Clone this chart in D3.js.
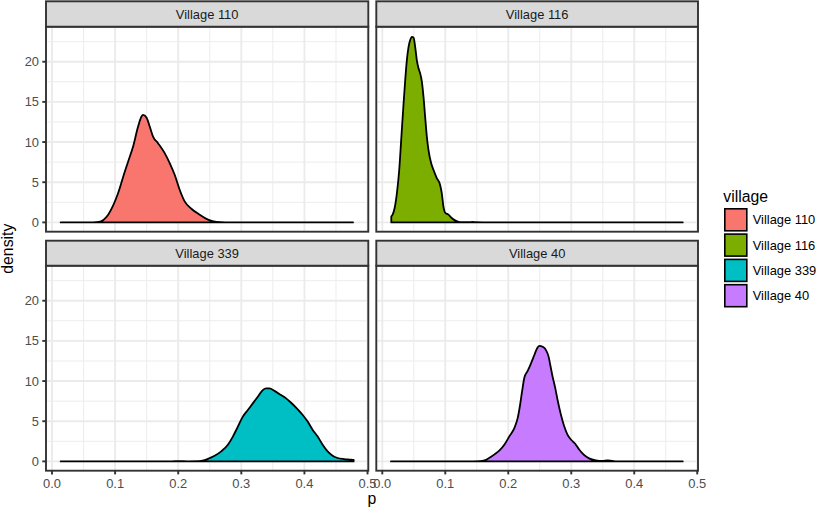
<!DOCTYPE html>
<html>
<head>
<meta charset="utf-8">
<script src="https://cdn.jsdelivr.net/npm/d3@7"></script>
<style>
  html, body { margin: 0; padding: 0; background: #fff; }
  svg { display: block; font-family: "Liberation Sans", Arial, sans-serif; }
</style>
</head>
<body>
<svg id="chart" width="817" height="511"></svg>
<script>
// ---------------- data ----------------
const villages = ["Village 110", "Village 116", "Village 339", "Village 40"];
const fillColors = ["#F8766D", "#7CAE00", "#00BFC4", "#C77CFF"];

const p110 = [0.0137, 0.065, 0.0739, 0.089, 0.1048, 0.1154, 0.1207, 0.1285, 0.1364, 0.1418, 0.1443, 0.1497, 0.1549, 0.1601, 0.168, 0.1786, 0.1865, 0.1944, 0.2023, 0.2102, 0.2208, 0.234, 0.2472, 0.2604, 0.275, 0.477];
const d110 = [0, 0, 0.05, 0.96, 3.65, 6.34, 7.58, 9.44, 11.93, 13.17, 13.38, 13.05, 11.93, 10.68, 9.86, 8.62, 7.38, 5.93, 4.06, 2.61, 1.70, 0.96, 0.34, 0.05, 0, 0];

const p116 = [0.0143, 0.0164, 0.0196, 0.0232, 0.0269, 0.0300, 0.0338, 0.0364, 0.039, 0.0417, 0.0443, 0.047, 0.0496, 0.0522, 0.0548, 0.0575, 0.0601, 0.0628, 0.0654, 0.068, 0.0707, 0.0733, 0.0775, 0.0812, 0.0865, 0.0917, 0.0944, 0.097, 0.0996, 0.105, 0.1102, 0.1154, 0.1233, 0.138, 0.143, 0.148, 0.16, 0.477];
const d116 = [0.75, 0.96, 1.79, 3.65, 6.55, 10.27, 14.83, 17.73, 20.2, 21.86, 22.7, 23.1, 23.03, 21.86, 20.2, 19.18, 18.56, 17.52, 15.65, 13.17, 10.68, 9.03, 7.38, 6.55, 5.52, 4.68, 3.65, 1.99, 1.24, 0.96, 0.55, 0.25, 0.02, 0.02, 0.06, 0.02, 0, 0];

const p339 = [0.0137, 0.19, 0.2, 0.215, 0.232, 0.2418, 0.25, 0.2577, 0.2682, 0.2787, 0.2866, 0.2945, 0.3024, 0.3103, 0.3182, 0.3261, 0.334, 0.3394, 0.3446, 0.3525, 0.3631, 0.371, 0.3789, 0.3894, 0.3973, 0.4052, 0.4131, 0.421, 0.4289, 0.4368, 0.4447, 0.4526, 0.4632, 0.4738, 0.478];
const d339 = [0, 0, 0.03, 0.01, 0.02, 0.15, 0.42, 0.70, 1.24, 2.07, 3.09, 4.33, 5.57, 6.39, 7.22, 8.04, 8.87, 9.08, 9.08, 8.78, 8.25, 7.84, 7.30, 6.48, 5.78, 4.95, 3.92, 3.09, 2.07, 1.24, 0.70, 0.42, 0.29, 0.21, 0.17];

const p40 = [0.0137, 0.145, 0.1544, 0.1623, 0.1702, 0.1782, 0.1861, 0.194, 0.2019, 0.2098, 0.215, 0.2188, 0.2219, 0.2256, 0.2308, 0.2361, 0.2414, 0.2456, 0.2493, 0.2545, 0.2599, 0.264, 0.2667, 0.2703, 0.2746, 0.2782, 0.2836, 0.2888, 0.294, 0.2994, 0.3062, 0.3125, 0.3204, 0.3283, 0.3389, 0.3494, 0.3573, 0.3652, 0.372, 0.477];
const d40 = [0, 0, 0.02, 0.12, 0.46, 0.87, 1.36, 2.10, 3.14, 4.17, 5.41, 7.05, 8.70, 10.44, 11.26, 12.21, 13.24, 14.06, 14.39, 14.27, 13.85, 13.04, 12.0, 10.56, 9.12, 7.67, 5.81, 4.38, 3.34, 2.72, 2.19, 1.48, 0.79, 0.37, 0.12, 0.05, 0.12, 0.05, 0, 0];

const pSeries = [p110, p116, p339, p40];
const dSeries = [d110, d116, d339, d40];

const xTicks = [0, 0.1, 0.2, 0.3, 0.4, 0.5];
const xTickLabels = ["0.0", "0.1", "0.2", "0.3", "0.4", "0.5"];
const xMinor = [0.05, 0.15, 0.25, 0.35, 0.45];
const yTicks = [0, 5, 10, 15, 20];
const yMinor = [2.5, 7.5, 12.5, 17.5, 22.5];

// ---------------- layout ----------------
const svg = d3.select("#chart");
const colX = [[46, 368.3], [376.3, 698]];
const stripY = [[1.3, 26.7], [240.7, 265.7]];
const panelY = [[26.7, 231.7], [265.7, 470.7]];

const smallFont = 12.9, bigFont = 15.8;

const allP = pSeries.flat();
const pMin = d3.min(allP), pMax = d3.max(allP);
const pPad = (pMax - pMin) * 0.05;
const dMax = 23.2;
const dPad = dMax * 0.05;

const grey20 = "#333333", gridCol = "#EBEBEB";

villages.forEach((v, i) => {
  const col = i % 2, row = Math.floor(i / 2);
  const [x0, x1] = colX[col];
  const [py0, py1] = panelY[row];
  const [sy0, sy1] = stripY[row];

  const x = d3.scaleLinear().domain([pMin - pPad, pMax + pPad]).range([x0, x1]);
  const y = d3.scaleLinear().domain([-dPad, dMax + dPad]).range([py1, py0]);

  const g = svg.append("g");
  g.append("rect").attr("x", x0).attr("y", py0).attr("width", x1 - x0).attr("height", py1 - py0).attr("fill", "#fff");

  // minor grid
  g.selectAll(".vminor").data(xMinor).join("line")
    .attr("x1", d => x(d)).attr("x2", d => x(d)).attr("y1", py0).attr("y2", py1)
    .attr("stroke", gridCol).attr("stroke-width", 0.95);
  g.selectAll(".hminor").data(yMinor).join("line")
    .attr("x1", x0).attr("x2", x1).attr("y1", d => y(d)).attr("y2", d => y(d))
    .attr("stroke", gridCol).attr("stroke-width", 0.95);
  // major grid
  g.selectAll(".vmajor").data(xTicks).join("line")
    .attr("x1", d => x(d)).attr("x2", d => x(d)).attr("y1", py0).attr("y2", py1)
    .attr("stroke", gridCol).attr("stroke-width", 1.9);
  g.selectAll(".hmajor").data(yTicks).join("line")
    .attr("x1", x0).attr("x2", x1).attr("y1", d => y(d)).attr("y2", d => y(d))
    .attr("stroke", gridCol).attr("stroke-width", 1.9);

  // density
  const pts = pSeries[i].map((p, k) => ({ p, d: dSeries[i][k] }));
  const area = d3.area()
    .x(d => x(d.p)).y0(y(0)).y1(d => y(d.d))
    .curve(d3.curveMonotoneX);
  g.append("path").datum(pts).attr("d", area)
    .attr("fill", fillColors[i]).attr("stroke", "#000").attr("stroke-width", 1.8)
    .attr("stroke-linejoin", "round");

  // panel border
  g.append("rect").attr("x", x0).attr("y", py0).attr("width", x1 - x0).attr("height", py1 - py0)
    .attr("fill", "none").attr("stroke", grey20).attr("stroke-width", 1.9);

  // strip
  g.append("rect").attr("x", x0).attr("y", sy0).attr("width", x1 - x0).attr("height", sy1 - sy0)
    .attr("fill", "#D9D9D9").attr("stroke", grey20).attr("stroke-width", 1.9);
  g.append("text").attr("x", (x0 + x1) / 2).attr("y", (sy0 + sy1) / 2 + 4.6)
    .attr("text-anchor", "middle").attr("font-size", smallFont + "px").attr("fill", "#1A1A1A").text(v);

  if (col === 0) {
    const ya = g.append("g");
    ya.selectAll("line").data(yTicks).join("line")
      .attr("x1", x0 - 3.7).attr("x2", x0).attr("y1", d => y(d)).attr("y2", d => y(d))
      .attr("stroke", grey20).attr("stroke-width", 1.9);
    ya.selectAll("text").data(yTicks).join("text")
      .attr("x", x0 - 7).attr("y", d => y(d) + 4.6)
      .attr("text-anchor", "end").attr("font-size", smallFont + "px").attr("fill", "#4D4D4D")
      .text(d => d);
  }
  if (row === 1) {
    const xa = g.append("g");
    xa.selectAll("line").data(xTicks).join("line")
      .attr("x1", d => x(d)).attr("x2", d => x(d)).attr("y1", py1).attr("y2", py1 + 3.7)
      .attr("stroke", grey20).attr("stroke-width", 1.9);
    xa.selectAll("text").data(xTicks).join("text")
      .attr("x", d => x(d)).attr("y", py1 + 17.3)
      .attr("text-anchor", "middle").attr("font-size", smallFont + "px").attr("fill", "#4D4D4D")
      .text((d, k) => xTickLabels[k]);
  }
});

// axis titles
svg.append("text").attr("x", (colX[0][0] + colX[1][1]) / 2).attr("y", 504)
  .attr("text-anchor", "middle").attr("font-size", bigFont + "px").attr("fill", "#000").text("p");
svg.append("text").attr("transform", `translate(12.5, ${(panelY[0][0] + panelY[1][1]) / 2}) rotate(-90)`)
  .attr("text-anchor", "middle").attr("font-size", bigFont + "px").attr("fill", "#000").text("density");

// legend
const lg = svg.append("g");
lg.append("text").attr("x", 723.3).attr("y", 201.7).attr("font-size", bigFont + "px").attr("fill", "#000").text("village");
const keyTop = 208.3, keyStep = 25.3, keySize = 23;
lg.selectAll("rect").data(villages).join("rect")
  .attr("x", 724.8).attr("y", (d, k) => keyTop + k * keyStep + 0.5)
  .attr("width", keySize - 1).attr("height", keySize - 1)
  .attr("fill", (d, k) => fillColors[k]).attr("stroke", "#000").attr("stroke-width", 1.6);
lg.selectAll("text.lab").data(villages).join("text").attr("class", "lab")
  .attr("x", 752.7).attr("y", (d, k) => keyTop + k * keyStep + keySize / 2 + 4.6)
  .attr("font-size", smallFont + "px").attr("fill", "#000").text(d => d);
</script>
</body>
</html>
